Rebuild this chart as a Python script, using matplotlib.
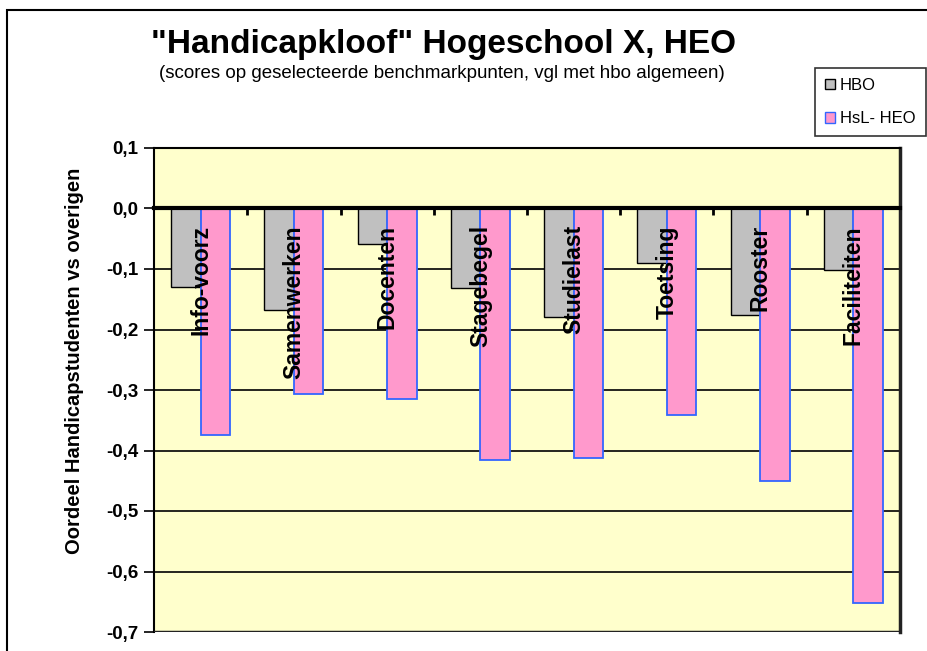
import numpy as np
import matplotlib
matplotlib.use("Agg")
import matplotlib.pyplot as plt
from matplotlib.patches import Patch, Rectangle

plt.rcParams['font.family'] = ['Liberation Sans', 'DejaVu Sans']

# Gegevens
categories = ["Info-voorz", "Samenwerken", "Docenten", "Stagebegel",
              "Studielast", "Toetsing", "Rooster", "Faciliteiten"]
hbo = [-0.129, -0.167, -0.058, -0.132, -0.179, -0.090, -0.176, -0.102]
hsl_heo = [-0.374, -0.307, -0.315, -0.416, -0.413, -0.342, -0.450, -0.652]
series_names = ["HBO", "HsL- HEO"]
yticks = [0.1, 0.0, -0.1, -0.2, -0.3, -0.4, -0.5, -0.6, -0.7]

fig = plt.figure(figsize=(9.28, 6.51), dpi=100)
ax = fig.add_axes([154/928, 1-632/651, (900-154)/928, (632-148)/651])
ax.set_facecolor("#FFFFCC")

x = np.arange(len(categories))
w = 0.317
ax.bar(x - w/2, hbo, w, color="#C0C0C0", edgecolor="black", linewidth=1, zorder=3)
ax.bar(x + w/2, hsl_heo, w, color="#FF99CC", edgecolor="#3366FF", linewidth=1.3, zorder=3)

ax.set_xlim(-0.5, len(categories) - 0.5)
ax.set_ylim(-0.7, 0.1)
ax.set_yticks(yticks)
ax.set_yticklabels([f"{v:.1f}".replace(".", ",") for v in yticks],
                   fontsize=13.5, fontweight="bold")
ax.tick_params(axis="y", direction="out", length=7, width=1.2, pad=4)
ax.yaxis.grid(True, color="black", linewidth=1.2, zorder=1)
ax.set_axisbelow(True)

# x-as op nul, ticks tussen categorieen
ax.spines["bottom"].set_position(("data", 0))
ax.spines["bottom"].set_linewidth(3)
ax.spines["bottom"].set_zorder(4)
ax.set_xticks(x[:-1] + 0.5)
ax.set_xticklabels([])
ax.tick_params(axis="x", direction="out", length=5, width=2)
ax.axhline(-0.7, color="#222222", linewidth=2.5, zorder=4)
for s in ["left", "top", "right"]:
    ax.spines[s].set_linewidth(1.5)
ax.spines["right"].set_linewidth(2.5)
ax.spines["right"].set_color("#222222")

for xi, name in zip(x, categories):
    ax.annotate(name, (xi, 0), xytext=(0, -12), textcoords="offset points",
                rotation=90, ha="center", va="top", fontsize=16.5,
                fontweight="bold", zorder=5)

# titels
fig.text(444/928, 1-44/651, '"Handicapkloof" Hogeschool X, HEO',
         ha="center", va="center", fontsize=24, fontweight="bold")
fig.text(442/928, 1-74/651,
         "(scores op geselecteerde benchmarkpunten, vgl met hbo algemeen)",
         ha="center", va="center", fontsize=13.5)
fig.text(75/928, 1-361/651, "Oordeel Handicapstudenten vs overigen",
         rotation=90, ha="center", va="center", fontsize=14.5, fontweight="bold")

# legenda
handles = [Patch(facecolor="#C0C0C0", edgecolor="black"),
           Patch(facecolor="#FF99CC", edgecolor="#3366FF")]
leg = fig.legend(handles, series_names, loc="upper left",
                 bbox_to_anchor=(815/928, 1-68/651), fontsize=12,
                 frameon=True, fancybox=False, edgecolor="black",
                 handlelength=0.6, handleheight=0.6, handletextpad=0.3,
                 labelspacing=1.1, borderaxespad=0, borderpad=0.6)
leg.get_frame().set_linewidth(1.2)

# rand van de grafiek
fig.patches.append(Rectangle((7/928, -0.1), 1.2, 1.1 - 10/651, transform=fig.transFigure,
                             fill=False, edgecolor="black", linewidth=1.5))

fig.savefig("out.png", dpi=100)
